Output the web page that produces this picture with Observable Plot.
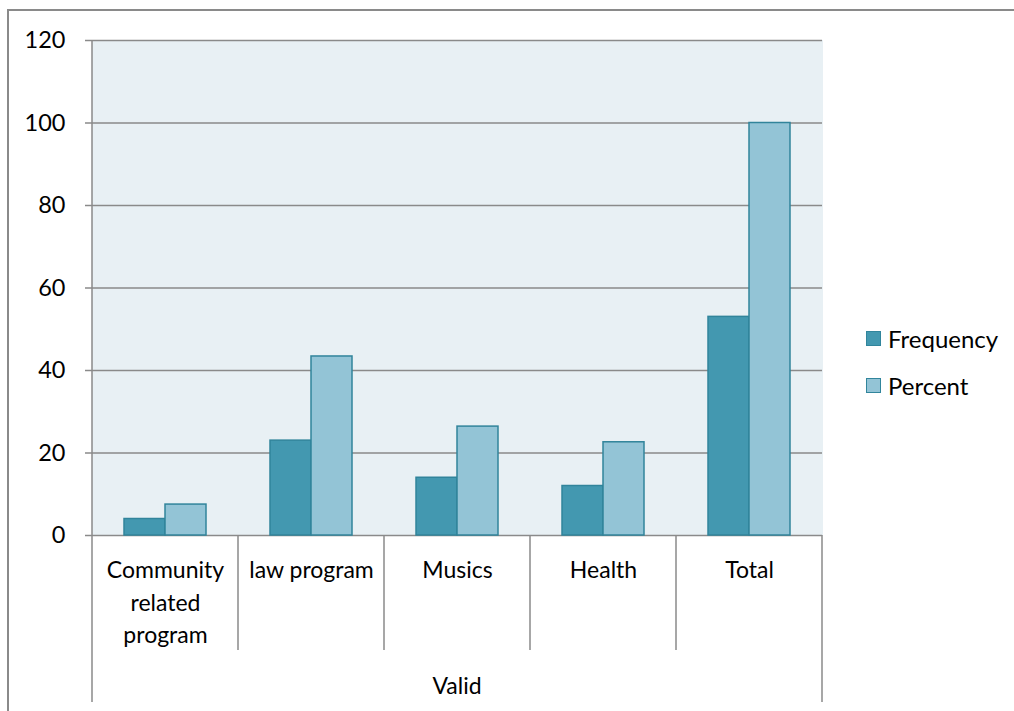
<!DOCTYPE html>
<html>
<head>
<meta charset="utf-8">
<script src="https://cdn.jsdelivr.net/npm/d3@7"></script>
<script src="https://cdn.jsdelivr.net/npm/@observablehq/plot@0.6"></script>
<style>
  html, body { margin: 0; padding: 0; background: #fff; }
  #wrap { position: relative; width: 1014px; height: 711px; font-family: Lato, "Open Sans", sans-serif; overflow: hidden; }
  #border { position: absolute; left: 7px; top: 9px; right: 0; bottom: 0; border-top: 2px solid #8a8a8a; border-left: 2px solid #8a8a8a; pointer-events: none; }
  #legend { position: absolute; left: 866px; top: 315px; font-size: 24px; color: #000; }
  .item { display: flex; align-items: center; height: 47px; }
  .sw { width: 13px; height: 13px; border: 1px solid #31859C; margin-right: 7px; }
</style>
</head>
<body>
<div id="wrap"><div id="border"></div><div id="legend"></div></div>
<script>
const categories = ["Community related program", "law program", "Musics", "Health", "Total"];
const categoryLabels = ["Community\nrelated\nprogram", "law program", "Musics", "Health", "Total"];
const series = ["Frequency", "Percent"];
const frequency = [4, 23, 14, 12, 53];
const percent = [7.5, 43.4, 26.4, 22.6, 100];
const yTicks = [0, 20, 40, 60, 80, 100, 120];
const colors = ["#4398B0", "#93C4D6"];
const groupLabel = "Valid";

const data = [];
categories.forEach((c, i) => {
  data.push({cat: c, series: series[0], value: frequency[i]});
  data.push({cat: c, series: series[1], value: percent[i]});
});
const labelOf = new Map(categories.map((c, i) => [c, categoryLabels[i]]));

const chart = Plot.plot({
  width: 1014,
  height: 711,
  marginLeft: 90,
  marginRight: 190,
  marginTop: 40,
  marginBottom: 176,
  style: {fontFamily: "Lato, 'Open Sans', sans-serif", background: "transparent", color: "#000"},
  fx: {domain: categories, padding: 0},
  x: {domain: series, paddingInner: 0, paddingOuter: 0.75},
  y: {domain: [0, 120]},
  color: {domain: series, range: colors},
  marks: [
    Plot.frame({fill: "#E8F0F4", stroke: "#E8F0F4", strokeWidth: 1}),
    Plot.gridY(yTicks, {stroke: "#8a8a8a", strokeOpacity: 1, strokeWidth: 1.5}),
    Plot.barY(data, {fx: "cat", x: "series", y: "value", fill: "series", stroke: "#31849B", strokeWidth: 1.5}),
    Plot.axisY(yTicks, {tickSize: 7, tickPadding: 20, fontSize: 23.5, stroke: "#8a8a8a", strokeWidth: 1.5, label: null}),
    Plot.axisX({ticks: [], label: null}),
    Plot.axisFx({anchor: "bottom", tickSize: 0, tickPadding: 20, fontSize: 23, lineHeight: 1.4, tickFormat: d => labelOf.get(d), label: null})
  ]
});
document.getElementById("wrap").appendChild(chart);

// structural lines drawn from the Plot scales
const svg = d3.select(chart);
const fx = chart.scale("fx");
const y = chart.scale("y");
const y0 = y.apply(0), yTop = y.apply(120);
const left = fx.apply(categories[0]);
const right = fx.apply(categories[categories.length - 1]) + fx.bandwidth;
const g = svg.append("g").attr("stroke", "#8a8a8a").attr("stroke-width", 1.5);
g.append("line").attr("x1", left).attr("x2", left).attr("y1", yTop).attr("y2", y0);
categories.forEach((c, i) => {
  const x = fx.apply(c);
  const outer = i === 0;
  g.append("line").attr("x1", x).attr("x2", x).attr("y1", y0).attr("y2", outer ? y0 + 167 : y0 + 115);
});
g.append("line").attr("x1", right).attr("x2", right).attr("y1", y0).attr("y2", y0 + 167);
svg.append("text").attr("x", (left + right) / 2).attr("y", y0 + 159)
  .attr("text-anchor", "middle").attr("font-size", 23).attr("fill", "#000").text(groupLabel);

// legend
const legend = d3.select("#legend");
series.forEach((s, i) => {
  const it = legend.append("div").attr("class", "item");
  it.append("div").attr("class", "sw").style("background", colors[i]);
  it.append("span").text(s);
});
</script>
</body>
</html>
